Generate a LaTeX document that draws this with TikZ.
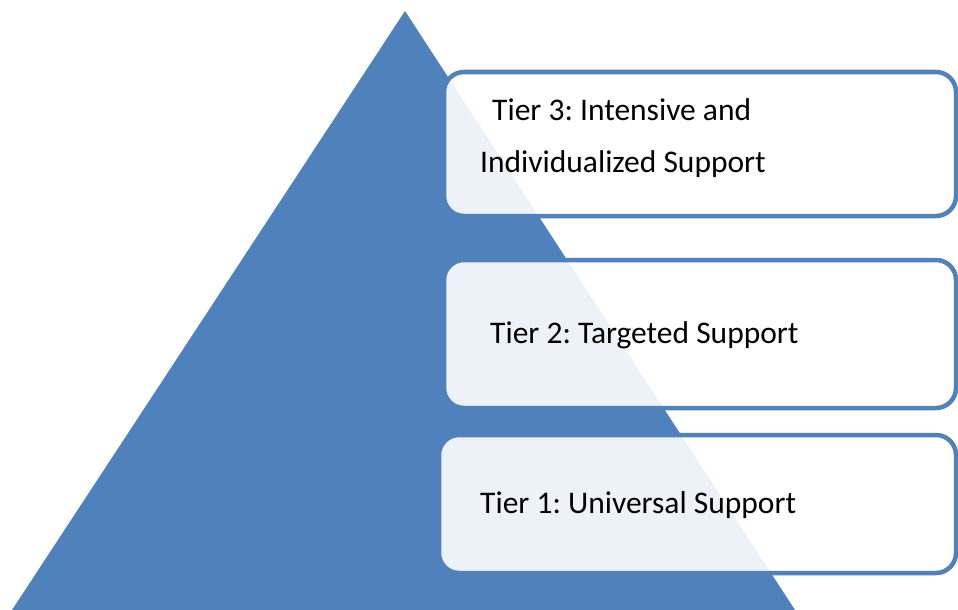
\documentclass[tikz,border=0pt]{standalone}
\usepackage{fontspec}
\setmainfont{Carlito}
\definecolor{bleu}{HTML}{4F81BD}
\frenchspacing
\begin{document}
\begin{tikzpicture}[x=1pt,y=-1pt]
% Styles
\tikzstyle{pyramide}=[fill=bleu]
\tikzstyle{boite}=[draw=bleu,line width=4.5pt,rounded corners=20pt,fill=white,fill opacity=0.9,inner sep=0pt]
\tikzstyle{texte}=[anchor=base west,inner sep=0pt,font=\fontsize{31.5}{36}\selectfont]
% Dimensions
\def\Lrg{512}
\def\HtA{144}
\def\HtB{148}
\def\HtC{138}
% Cadre
\useasboundingbox (0,0) rectangle (958,610);
% Pyramide
\fill[pyramide] (405,11) -- (12,610) -- (795,610) -- cycle;
% Boites
\node[boite,minimum width=\Lrg,minimum height=\HtA] (niveau3) at (700,144) {};
\node[boite,minimum width=\Lrg,minimum height=\HtB] (niveau2) at (700,334) {};
\node[boite,minimum width=\Lrg+5,minimum height=\HtC] (niveau1) at (697.5,504) {};
% Textes
\node[texte] (tier3a) at (492,120) {Tier 3: Intensive and};
\node[texte] (tier3b) at (480,172) {Individualized Support};
\node[texte] (tier2) at (490,343) {Tier 2: Targeted Support};
\node[texte] (tier1) at (480,513) {Tier 1: Universal Support};
\end{tikzpicture}
\end{document}
